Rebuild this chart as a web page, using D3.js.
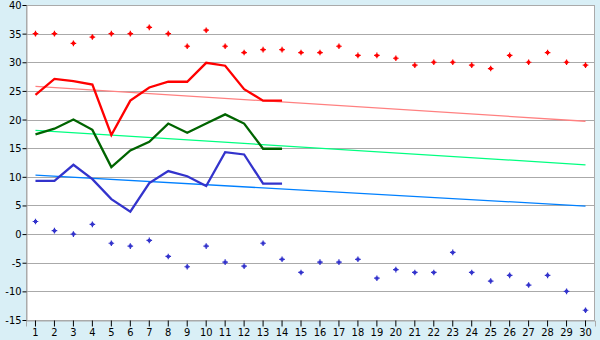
<!DOCTYPE html>
<html>
<head>
<meta charset="utf-8">
<script src="https://cdn.jsdelivr.net/npm/d3@7"></script>
<style>
html,body{margin:0;padding:0;background:#d9eff6;}
svg{display:block;}
</style>
</head>
<body>
<svg id="chart" width="600" height="340"></svg>
<script>
const days = d3.range(1, 31);
const yTicks = [-15, -10, -5, 0, 5, 10, 15, 20, 25, 30, 35, 40];

const redDots = [35.0, 35.0, 33.3, 34.4, 35.0, 35.0, 36.1, 35.0, 32.8, 35.6,
  32.8, 31.7, 32.2, 32.2, 31.7, 31.7, 32.8, 31.2, 31.2, 30.7,
  29.5, 30.0, 30.0, 29.5, 28.9, 31.2, 30.0, 31.7, 30.0, 29.5];
const redLine = [24.3, 27.1, 26.7, 26.1, 17.3, 23.3, 25.6, 26.6, 26.6, 29.9,
  29.4, 25.3, 23.3, 23.3];
const greenLine = [17.4, 18.4, 20.0, 18.2, 11.7, 14.6, 16.1, 19.3, 17.7, 19.3,
  20.9, 19.3, 14.9, 14.9];
const blueLine = [9.3, 9.3, 12.1, 9.6, 6.1, 3.9, 8.9, 11.0, 10.1, 8.4,
  14.3, 13.9, 8.8, 8.8];
const blueDots = [2.2, 0.6, 0.0, 1.7, -1.6, -2.1, -1.1, -3.9, -5.7, -2.1,
  -4.9, -5.6, -1.6, -4.4, -6.7, -4.9, -4.9, -4.4, -7.7, -6.2,
  -6.7, -6.7, -3.2, -6.7, -8.2, -7.2, -8.9, -7.2, -10.0, -13.3];
const trendDays = [1, 30];
const redTrend = [25.8, 19.7];
const greenTrend = [18.1, 12.1];
const blueTrend = [10.3, 4.9];

const svg = d3.select("#chart");
const L = 26, R = 595, T = 5, B = 320;
const FONT = "'DejaVu Sans Condensed', 'DejaVu Sans', sans-serif";

const x = d3.scaleBand().domain(days).range([L, R]);
const cx = d => x(d) + x.bandwidth() / 2;
const y = d3.scaleLinear().domain([-15, 40]).range([B, T]);

svg.append("rect").attr("x", L).attr("y", T).attr("width", R - L).attr("height", B - T)
  .attr("fill", "#ffffff");

// gridlines
svg.append("g").selectAll("line").data(yTicks).join("line")
  .attr("x1", L).attr("x2", R)
  .attr("y1", d => Math.round(y(d)) + 0.5).attr("y2", d => Math.round(y(d)) + 0.5)
  .attr("stroke", "#aaaaaa").attr("stroke-width", 1);

svg.append("rect").attr("x", L + 0.5).attr("y", T + 0.5).attr("width", R - L - 1).attr("height", B - T)
  .attr("fill", "none").attr("stroke", "#aaaaaa");

// axes
const yAxis = d3.axisLeft(y).tickValues(yTicks).tickSize(4).tickPadding(1)
  .tickFormat(d => String(d));
const gy = svg.append("g").attr("transform", `translate(${L + 0.5},0)`).call(yAxis);
gy.select(".domain").attr("stroke", "#aaaaaa");
gy.selectAll(".tick line").attr("stroke", "#000");
gy.selectAll("text").attr("font-family", FONT).attr("font-stretch", "condensed")
  .attr("font-size", 11).attr("fill", "#000");

const xAxis = d3.axisBottom(x).tickSize(6).tickPadding(2);
const gx = svg.append("g").attr("transform", `translate(0,${B + 0.5})`).call(xAxis);
gx.select(".domain").attr("stroke", "#aaaaaa");
gx.selectAll(".tick line").attr("stroke", "#000");
gx.selectAll("text").attr("font-family", FONT).attr("font-stretch", "condensed")
  .attr("font-size", 11).attr("fill", "#000");

// trend lines
const line = d3.line().x(d => cx(d[0])).y(d => y(d[1]));
[[redTrend, "#ff8080"], [greenTrend, "#00ff80"], [blueTrend, "#0080ff"]].forEach(([t, c]) => {
  svg.append("path").attr("d", line(trendDays.map((d, i) => [d, t[i]])))
    .attr("fill", "none").attr("stroke", c).attr("stroke-width", 1.3);
});

// main lines
[[redLine, "#ff0000"], [greenLine, "#006400"], [blueLine, "#3333cc"]].forEach(([s, c]) => {
  svg.append("path").attr("d", line(s.map((v, i) => [days[i], v])))
    .attr("fill", "none").attr("stroke", c).attr("stroke-width", 2.3)
    .attr("stroke-linejoin", "miter");
});

// dots: small plus with solid centre
const marker = "M-1.5,-1.5h3v3h-3z M-0.6,-2.8h1.2v5.6h-1.2z M-2.8,-0.6h5.6v1.2h-5.6z";
[[redDots, "#ff0000"], [blueDots, "#3333cc"]].forEach(([s, c]) => {
  svg.append("g").selectAll("path").data(s).join("path")
    .attr("d", marker)
    .attr("transform", (v, i) => `translate(${cx(days[i])},${y(v)})`)
    .attr("fill", c);
});
</script>
</body>
</html>
